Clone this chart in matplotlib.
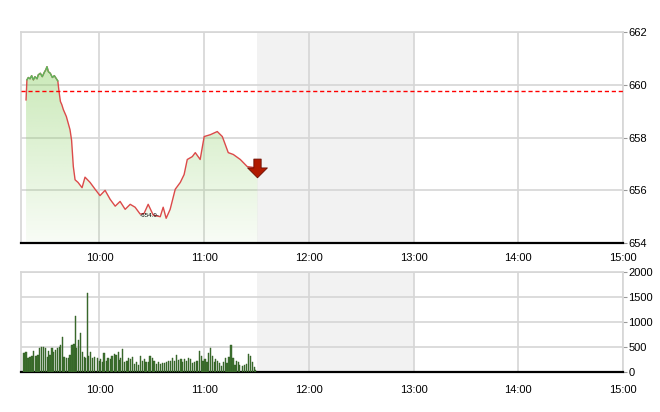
import numpy as np
import matplotlib.pyplot as plt
from matplotlib.path import Path
from matplotlib.patches import Polygon

plt.rcParams['font.family'] = ['Liberation Sans', 'DejaVu Sans']

# price, minutes after 9:00
price_t = [17.9, 18.4, 19.2, 20.2, 21.1, 22.1, 23.0, 24.2, 24.9, 26.1, 27.2, 28.4,
           29.2, 29.9, 30.7, 31.8, 33.0, 34.1, 35.3, 36.1, 36.8, 37.6, 38.4, 39.3,
           41.0, 43.1, 44.0, 45.0, 46.0, 47.7, 50.0, 51.7, 54.6, 57.5, 60.3, 63.2,
           66.1, 69.0, 71.8, 74.7, 77.6, 80.4, 83.3, 85.5, 87.9, 90.8, 94.8, 96.5,
           98.2, 100.5, 103.4, 106.3, 108.5, 110.3, 113.2, 114.9, 117.7, 120.0,
           123.5, 127.5, 130.4, 133.8, 136.7, 140.7, 144.7, 148.2, 150.5]
price_v = [659.43, 660.19, 660.28, 660.23, 660.35, 660.19, 660.31, 660.23, 660.38,
           660.44, 660.31, 660.48, 660.57, 660.69, 660.50, 660.44, 660.28, 660.35,
           660.23, 660.15, 659.75, 659.37, 659.25, 659.06, 658.80, 658.30, 657.90,
           656.90, 656.40, 656.30, 656.10, 656.50, 656.30, 656.04, 655.80, 656.00,
           655.66, 655.40, 655.58, 655.28, 655.47, 655.36, 655.10, 655.12, 655.47,
           655.06, 655.00, 655.36, 654.94, 655.28, 656.04, 656.30, 656.60, 657.17,
           657.28, 657.43, 657.17, 658.04, 658.11, 658.23, 658.04, 657.43, 657.36,
           657.17, 656.90, 656.87, 656.80]
ref_price = 659.77

vol_t = [16.7, 17.9, 19.0, 20.2, 21.3, 22.1, 23.6, 24.8, 25.5, 26.7, 27.8, 29.0,
         30.1, 30.9, 31.6, 32.8, 33.5, 34.7, 35.8, 37.0, 37.8, 38.9, 39.7, 41.2,
         42.4, 43.1, 44.3, 45.4, 46.2, 47.0, 48.1, 49.3, 50.4, 51.2, 51.9, 53.1,
         53.9, 55.0, 56.2, 57.3, 58.8, 59.9,
         60.7, 61.9, 62.6, 63.8, 64.9, 66.1, 67.2, 68.4, 69.5, 70.7, 71.4, 72.2,
         73.4, 74.5, 75.7, 76.8, 77.9, 78.7, 79.9, 81.0, 82.2, 83.3, 84.5, 85.6,
         86.7, 87.9, 89.0, 90.2, 91.3, 92.5, 93.6, 94.8, 95.9, 97.1, 98.2, 99.4,
         100.5, 101.7, 102.8, 104.0,
         105.5, 106.7, 107.4, 108.6, 109.7, 110.9, 112.0, 113.2, 114.3, 115.5,
         116.2, 117.4, 118.5, 119.3, 120.5, 121.6, 122.4, 123.5, 124.7, 125.8,
         126.6, 127.7, 128.9, 130.0, 131.2, 132.3, 133.1, 134.2, 135.4, 136.5,
         137.7, 138.4, 139.6, 140.3, 141.9, 143.0, 144.2, 145.3, 146.5, 147.6,
         148.8, 149.5]
vol_v = [380, 410, 290, 310, 330, 430, 330, 350, 490, 510, 510, 490, 310, 430, 350,
         490, 410, 450, 490, 510, 550, 690, 310, 290, 290, 350, 550, 560, 1110, 490,
         630, 780, 410, 310, 290, 1580, 330, 410, 290, 310, 290, 230,
         270, 200, 380, 230, 290, 270, 330, 360, 350, 410, 250, 290, 470, 200, 230,
         290, 270, 310, 160, 200, 150, 330, 230, 270, 210, 200, 330, 290, 230, 160,
         200, 160, 180, 180, 200, 230, 230, 280, 230, 350,
         250, 270, 210, 270, 230, 290, 270, 180, 200, 230, 230, 430, 330, 230, 270,
         200, 380, 490, 330, 200, 270, 230, 180, 130, 200, 290, 180, 310, 550, 290,
         150, 230, 210, 150, 130, 150, 160, 360, 330, 200, 110, 50]

hour_ticks = [60, 120, 180, 240, 300, 360]
hour_labels = ['10:00', '11:00', '12:00', '13:00', '14:00', '15:00']
lunch = (150, 240)

t = np.array(price_t)
p = np.array(price_v)

fig = plt.figure(figsize=(6.6, 4.12), dpi=100)
ax = fig.add_axes([0.0318, 0.410, 0.912, 0.512])
axv = fig.add_axes([0.0318, 0.097, 0.912, 0.243])

for a in (ax, axv):
    a.axvspan(*lunch, color='#f2f2f2', lw=0, zorder=0)
    a.set_xlim(15, 360)
    a.set_xticks(hour_ticks)
    a.set_xticklabels(hour_labels)
    a.grid(True, color='#d6d6d6', lw=1.2)
    a.set_axisbelow(True)
    for s in ('top', 'left', 'right'):
        a.spines[s].set_color('#d6d6d6')
        a.spines[s].set_linewidth(1.2)
    a.spines['bottom'].set_color('black')
    a.spines['bottom'].set_linewidth(1.6)
    a.yaxis.tick_right()
    a.tick_params(axis='y', length=3, color='#999999', labelsize=8, pad=1)
    a.tick_params(axis='x', length=0, labelsize=8)

# price panel
ax.set_ylim(654, 662)
ax.set_yticks([654, 656, 658, 660, 662])
ax.tick_params(axis='x', pad=7)

grad = np.linspace(0.55, 0.06, 256)[:, None]
rgba = np.zeros((256, 1, 4))
rgba[..., 0] = 143 / 255
rgba[..., 1] = 209 / 255
rgba[..., 2] = 106 / 255
rgba[..., 3] = grad
img = ax.imshow(rgba, extent=[t[0], t[-1], 654, 662], origin='upper',
                aspect='auto', zorder=2, interpolation='bilinear')
poly = Polygon(np.column_stack([np.r_[t[0], t, t[-1]], np.r_[654, p, 654]]),
               closed=True, facecolor='none', edgecolor='none')
ax.add_patch(poly)
img.set_clip_path(poly)
ax.set_xlim(15, 360)

ax.plot(t, p, color='#dc4a4a', lw=1.0, zorder=4)
ax.plot(t, np.ma.masked_less(p, ref_price), color='#5cb85c', lw=1.0, zorder=4)
ax.axhline(ref_price, color='#ff0000', lw=1, ls=(0, (3, 2)), zorder=5)

ax.text(89, 655.05, '-654.9-', fontsize=4.5, ha='center', va='center', zorder=6)

arrow = Path([(-0.35, 1.0), (0.35, 1.0), (0.35, 0.15), (0.95, 0.15), (0.0, -0.8),
              (-0.95, 0.15), (-0.35, 0.15), (-0.35, 1.0)],
             [Path.MOVETO] + [Path.LINETO] * 6 + [Path.CLOSEPOLY])
ax.plot([t[-1]], [p[-1]], marker=arrow, ms=15, color='#b01a00',
        mec='#6a0c00', mew=0.6, zorder=7)

# volume panel
axv.set_ylim(0, 2000)
axv.set_yticks([0, 500, 1000, 1500, 2000])
axv.tick_params(axis='x', pad=9)
axv.bar(vol_t, vol_v, width=0.7, color='#3f7330', edgecolor='#2f5a22',
        lw=0.3, zorder=3)

fig.savefig('out.png', dpi=100)
